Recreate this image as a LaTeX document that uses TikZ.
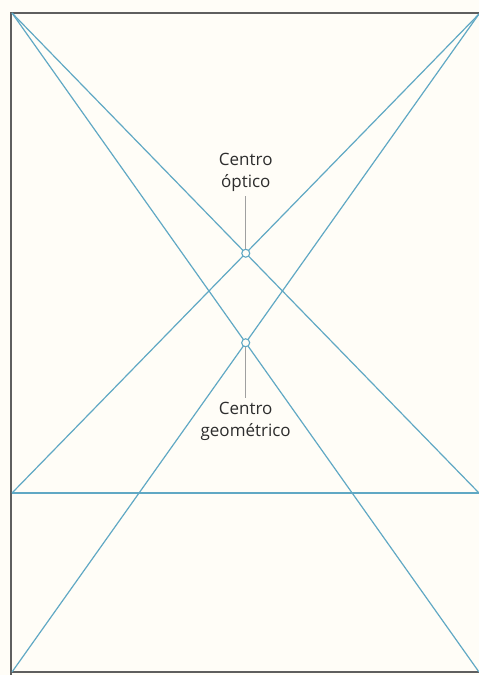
\documentclass[tikz,border=0pt]{standalone}
\usepackage{fontspec}
\setmainfont{Open Sans}
\definecolor{bg}{RGB}{255,253,247}
\definecolor{blueline}{RGB}{96,168,196}
\definecolor{framegray}{RGB}{95,95,95}
\definecolor{leader}{RGB}{160,160,160}
\definecolor{txt}{RGB}{45,45,45}
\begin{document}
\begin{tikzpicture}[x=1pt,y=-1pt,
  bline/.style={draw=blueline,line width=1.2pt},
  frameline/.style={draw=framegray,line width=1.4pt},
  ctr/.style={circle,draw=blueline,fill=bg,line width=1.1pt,inner sep=0pt,minimum size=8pt},
  lbl/.style={font=\fontsize{17}{22}\selectfont,text=txt,align=center,inner sep=1pt},
  lead/.style={draw=leader,line width=0.8pt}]
\fill[bg] (0,0) rectangle (479,675);
\useasboundingbox (0,0) rectangle (479,675);
\coordinate (TL) at (12,13);
\coordinate (TR) at (479,14);
\coordinate (BL) at (12,672);
\coordinate (BR) at (479,672);
\coordinate (HL) at (12,493);
\coordinate (HR) at (479,493);
% frame
\draw[frameline] (11,675) -- (11,13) -- (479,13);
\draw[frameline] (11,672) -- (479,672);
% lines
\draw[bline] (TL) -- (BR);
\draw[bline] (TR) -- (BL);
\draw[bline] (HL) -- (HR);
\draw[bline] (TL) -- (HR);
\draw[bline] (TR) -- (HL);
% centres
\node[ctr] (opt) at (intersection of TL--HR and TR--HL) {};
\node[ctr] (geo) at (intersection of TL--BR and TR--BL) {};
\node[lbl] (optlbl) at (opt |- 0,172) {Centro\\óptico};
\node[lbl] (geolbl) at (geo |- 0,421) {Centro\\geométrico};
\draw[lead] (opt |- 0,196) -- (opt.north);
\draw[lead] (geo.south) -- (geo |- 0,398);
\end{tikzpicture}
\end{document}
